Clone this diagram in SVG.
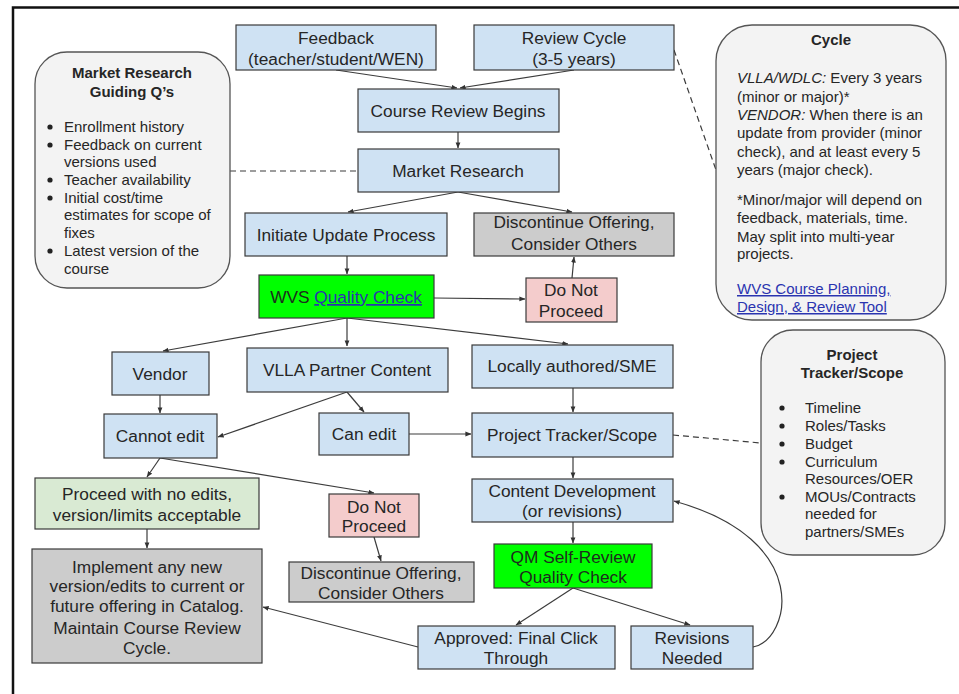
<svg xmlns="http://www.w3.org/2000/svg" width="959" height="694" viewBox="0 0 959 694">
<defs>
<marker id="ah" viewBox="0 0 8 8" refX="7.5" refY="4" markerWidth="6" markerHeight="6" orient="auto" markerUnits="userSpaceOnUse">
<path d="M0,0.8 L8,4 L0,7.2 Z" fill="#333"/>
</marker>
<style>
.blue{fill:#cfe2f3;stroke:#3a3a3a;stroke-width:1.2}
.gray{fill:#cccccc;stroke:#3a3a3a;stroke-width:1.2}
.green{fill:#00ff00;stroke:#3a3a3a;stroke-width:1.2}
.pink{fill:#f4cccc;stroke:#3a3a3a;stroke-width:1.2}
.lgreen{fill:#d9ead3;stroke:#3a3a3a;stroke-width:1.2}
.side{fill:#f3f3f3;stroke:#555;stroke-width:1.3}
text{font-family:"Liberation Sans",Arial,sans-serif;fill:#262626}
.t{font-size:17.3px;text-anchor:middle}
.gt{font-size:17.3px;text-anchor:middle;fill:#1d2d1d}
.s{font-size:15px}
.sb{font-size:15px;font-weight:bold;text-anchor:middle}
.link{fill:#2a34b0;text-decoration:underline}
.e{fill:none;stroke:#3c3c3c;stroke-width:1.2;marker-end:url(#ah)}
.d{fill:none;stroke:#3c3c3c;stroke-width:1.2;stroke-dasharray:6,4}
</style>
</defs>
<rect width="959" height="694" fill="#ffffff"/>
<g id="frame"><path d="M13,694 L13,7.5 L959,7.5" fill="none" stroke="#111" stroke-width="2.5"/></g>

<g id="connectors">
<path class="e" d="M336,70 L457,88"/>
<path class="e" d="M574,70 L460,88"/>
<path class="e" d="M458,132 L458,148"/>
<path class="e" d="M458,192 L348,212"/>
<path class="e" d="M458,192 L572,212"/>
<path class="e" d="M347,256 L347,274"/>
<path class="e" d="M434,298 L525,299"/>
<path class="e" d="M572,278 L574,257"/>
<path class="e" d="M347,318 L163,351"/>
<path class="e" d="M347,318 L347,346"/>
<path class="e" d="M347,318 L568,344"/>
<path class="e" d="M160,395 L160,413"/>
<path class="e" d="M347,392 L218,437"/>
<path class="e" d="M347,392 L364,412"/>
<path class="e" d="M409,434 L471,434"/>
<path class="e" d="M573,388 L573,412"/>
<path class="e" d="M573,457 L573,478"/>
<path class="e" d="M573,522 L573,543"/>
<path class="e" d="M573,588 L516,625"/>
<path class="e" d="M573,588 L690,625"/>
<path class="e" d="M753,647 C790,640 815,540 674,501"/>
<path class="e" d="M418,647 L263,607"/>
<path class="e" d="M160,458 L147,477"/>
<path class="e" d="M160,458 L374,493"/>
<path class="e" d="M147,529 L147,548"/>
<path class="e" d="M374,537 L381,561"/>
<path class="d" d="M230,171 L358,171"/>
<path class="d" d="M674,50 L716,170"/>
<path class="d" d="M673,435 L761,443"/>
</g>

<g id="market-research-notes">
<rect class="side" x="35" y="52" width="195" height="236" rx="32" ry="32"/>
<text class="sb" x="132" y="78">Market Research</text>
<text class="sb" x="132" y="97">Guiding Q’s</text>
<g class="s">
<circle cx="50" cy="127" r="2.6" fill="#222"/><text class="s" x="64" y="132">Enrollment history</text>
<circle cx="50" cy="145" r="2.6" fill="#222"/><text class="s" x="64" y="149.5">Feedback on current</text>
<text class="s" x="64" y="167">versions used</text>
<circle cx="50" cy="180" r="2.6" fill="#222"/><text class="s" x="64" y="185">Teacher availability</text>
<circle cx="50" cy="198" r="2.6" fill="#222"/><text class="s" x="64" y="202.5">Initial cost/time</text>
<text class="s" x="64" y="220">estimates for scope of</text>
<text class="s" x="64" y="238">fixes</text>
<circle cx="50" cy="251" r="2.6" fill="#222"/><text class="s" x="64" y="256">Latest version of the</text>
<text class="s" x="64" y="274">course</text>
</g>
</g>

<g id="cycle-notes">
<rect class="side" x="716" y="25" width="230" height="295" rx="36" ry="36"/>
<text class="sb" x="831" y="45">Cycle</text>
<text class="s" x="737" y="83"><tspan font-style="italic">VLLA/WDLC:</tspan> Every 3 years</text>
<text class="s" x="737" y="102">(minor or major)*</text>
<text class="s" x="737" y="120"><tspan font-style="italic">VENDOR:</tspan> When there is an</text>
<text class="s" x="737" y="138">update from provider (minor</text>
<text class="s" x="737" y="157">check), and at least every 5</text>
<text class="s" x="737" y="175">years (major check).</text>
<text class="s" x="737" y="205">*Minor/major will depend on</text>
<text class="s" x="737" y="223">feedback, materials, time.</text>
<text class="s" x="737" y="242">May split into multi-year</text>
<text class="s" x="737" y="259">projects.</text>
<text class="s link" x="737" y="294">WVS Course Planning,</text>
<text class="s link" x="737" y="312">Design, &amp; Review Tool</text>
</g>

<g id="project-tracker-notes">
<rect class="side" x="761" y="330" width="184" height="225" rx="32" ry="32"/>
<text class="sb" x="852" y="360">Project</text>
<text class="sb" x="852" y="378">Tracker/Scope</text>
<circle cx="782" cy="408" r="2.6" fill="#222"/><text class="s" x="805" y="413">Timeline</text>
<circle cx="782" cy="426" r="2.6" fill="#222"/><text class="s" x="805" y="431">Roles/Tasks</text>
<circle cx="782" cy="444" r="2.6" fill="#222"/><text class="s" x="805" y="449">Budget</text>
<circle cx="782" cy="462" r="2.6" fill="#222"/><text class="s" x="805" y="467">Curriculum</text>
<text class="s" x="805" y="484">Resources/OER</text>
<circle cx="782" cy="497" r="2.6" fill="#222"/><text class="s" x="805" y="502">MOUs/Contracts</text>
<text class="s" x="805" y="519">needed for</text>
<text class="s" x="805" y="537">partners/SMEs</text>
</g>

<g id="feedback"><rect class="blue" x="236" y="25" width="200" height="45"/>
<text class="t" x="336" y="44">Feedback</text><text class="t" x="336" y="65">(teacher/student/WEN)</text></g>
<g id="review-cycle"><rect class="blue" x="474" y="25" width="200" height="45"/>
<text class="t" x="574" y="44">Review Cycle</text><text class="t" x="574" y="65">(3-5 years)</text></g>
<g id="course-review-begins"><rect class="blue" x="358" y="89" width="201" height="43"/>
<text class="t" x="458" y="117">Course Review Begins</text></g>
<g id="market-research"><rect class="blue" x="358" y="149" width="201" height="43"/>
<text class="t" x="458" y="177">Market Research</text></g>
<g id="initiate-update"><rect class="blue" x="245" y="213" width="202" height="43"/>
<text class="t" x="346" y="241">Initiate Update Process</text></g>
<g id="discontinue-top"><rect class="gray" x="474" y="213" width="200" height="43"/>
<text class="t" x="574" y="228">Discontinue Offering,</text><text class="t" x="574" y="250">Consider Others</text></g>
<g id="wvs-quality-check"><rect class="green" x="259" y="275" width="175" height="43"/>
<text class="gt" x="346" y="303">WVS <tspan class="link" fill="#2a34b0">Quality Check</tspan></text></g>
<g id="do-not-proceed-top"><rect class="pink" x="526" y="278" width="91" height="44"/>
<text class="t" x="571" y="296">Do Not</text><text class="t" x="571" y="317">Proceed</text></g>
<g id="vendor"><rect class="blue" x="112" y="352" width="97" height="43"/>
<text class="t" x="160" y="380">Vendor</text></g>
<g id="vlla-partner"><rect class="blue" x="247" y="348" width="201" height="44"/>
<text class="t" x="347" y="376">VLLA Partner Content</text></g>
<g id="locally-authored"><rect class="blue" x="472" y="345" width="201" height="43"/>
<text class="t" x="572" y="372">Locally authored/SME</text></g>
<g id="cannot-edit"><rect class="blue" x="104" y="414" width="113" height="44"/>
<text class="t" x="160" y="442">Cannot edit</text></g>
<g id="can-edit"><rect class="blue" x="319" y="413" width="90" height="42"/>
<text class="t" x="364" y="440">Can edit</text></g>
<g id="project-tracker"><rect class="blue" x="472" y="413" width="201" height="44"/>
<text class="t" x="572" y="441">Project Tracker/Scope</text></g>
<g id="content-development"><rect class="blue" x="472" y="479" width="201" height="43"/>
<text class="t" x="572" y="497">Content Development</text><text class="t" x="572" y="517">(or revisions)</text></g>
<g id="qm-self-review"><rect class="green" x="494" y="544" width="158" height="44"/>
<text class="gt" x="573" y="563">QM Self-Review</text><text class="gt" x="573" y="583">Quality Check</text></g>
<g id="approved"><rect class="blue" x="418" y="626" width="197" height="43"/>
<text class="t" x="516" y="644">Approved: Final Click</text><text class="t" x="516" y="664">Through</text></g>
<g id="revisions-needed"><rect class="blue" x="631" y="626" width="122" height="43"/>
<text class="t" x="692" y="644">Revisions</text><text class="t" x="692" y="664">Needed</text></g>
<g id="proceed-no-edits"><rect class="lgreen" x="35" y="478" width="224" height="51"/>
<text class="t" x="147" y="500">Proceed with no edits,</text><text class="t" x="147" y="521">version/limits acceptable</text></g>
<g id="do-not-proceed-bottom"><rect class="pink" x="329" y="494" width="90" height="43"/>
<text class="t" x="374" y="513">Do Not</text><text class="t" x="374" y="532">Proceed</text></g>
<g id="implement"><rect class="gray" x="32" y="549" width="230" height="114"/>
<text class="t" x="147" y="573">Implement any new</text>
<text class="t" x="147" y="592">version/edits to current or</text>
<text class="t" x="147" y="612">future offering in Catalog.</text>
<text class="t" x="147" y="634">Maintain Course Review</text>
<text class="t" x="147" y="654">Cycle.</text></g>
<g id="discontinue-bottom"><rect class="gray" x="289" y="562" width="185" height="40"/>
<text class="t" x="381" y="579">Discontinue Offering,</text><text class="t" x="381" y="599">Consider Others</text></g>
</svg>
